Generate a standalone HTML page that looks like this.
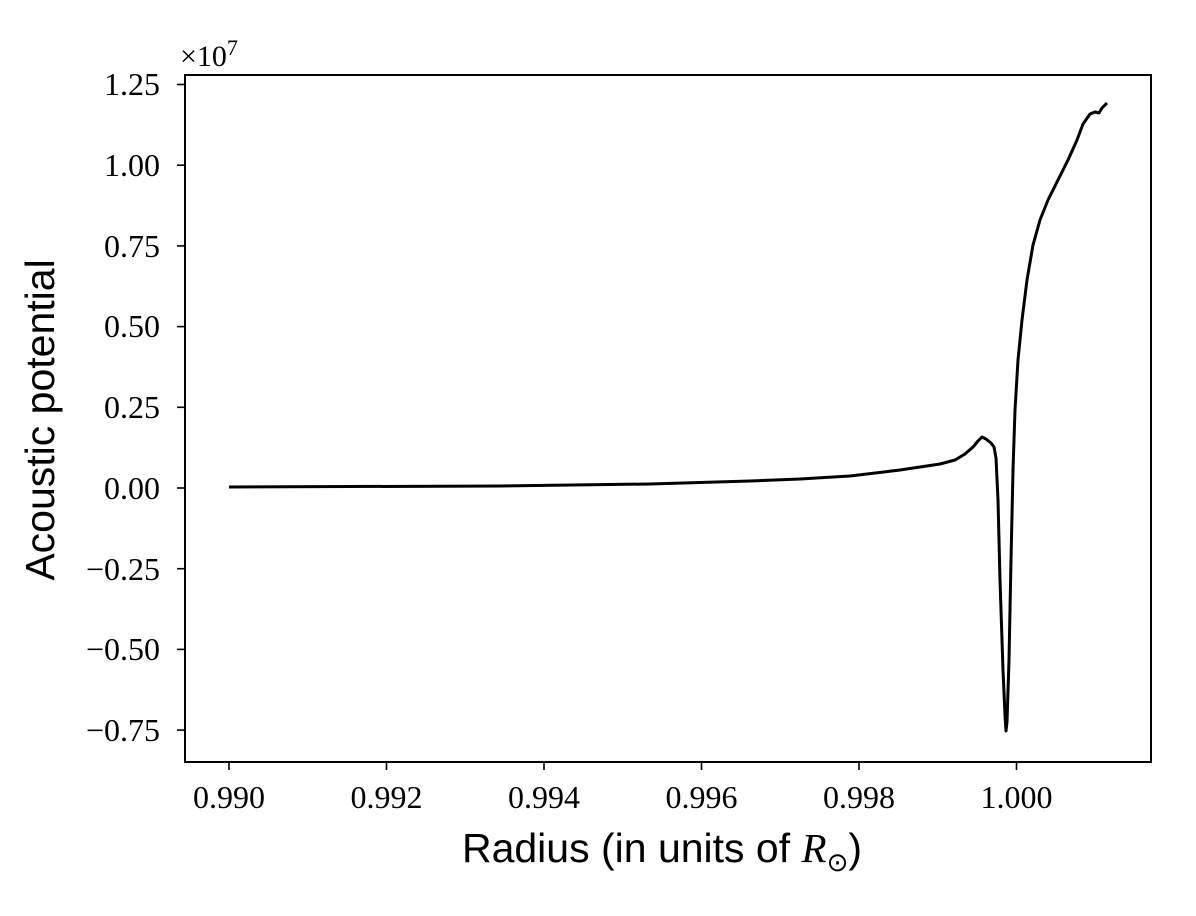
<!DOCTYPE html>
<html><head><style>
body{margin:0;background:#fff;}
svg text{font-family:"Liberation Serif",serif;fill:#000;}
</style></head><body>
<svg width="1196" height="911" xmlns="http://www.w3.org/2000/svg">
<rect x="185" y="75" width="966" height="687" fill="none" stroke="#000" stroke-width="2"/>
<g stroke="#000" stroke-width="1.6">
<line x1="229" y1="762" x2="229" y2="770"/><line x1="386.5" y1="762" x2="386.5" y2="770"/>
<line x1="544" y1="762" x2="544" y2="770"/><line x1="701.5" y1="762" x2="701.5" y2="770"/>
<line x1="859" y1="762" x2="859" y2="770"/><line x1="1016.5" y1="762" x2="1016.5" y2="770"/>
<line x1="177" y1="84.5" x2="185" y2="84.5"/><line x1="177" y1="165.2" x2="185" y2="165.2"/>
<line x1="177" y1="245.9" x2="185" y2="245.9"/><line x1="177" y1="326.6" x2="185" y2="326.6"/>
<line x1="177" y1="407.3" x2="185" y2="407.3"/><line x1="177" y1="488" x2="185" y2="488"/>
<line x1="177" y1="568.7" x2="185" y2="568.7"/><line x1="177" y1="649.4" x2="185" y2="649.4"/>
<line x1="177" y1="730.1" x2="185" y2="730.1"/>
</g>
<g font-size="32" text-anchor="middle">
<text x="229" y="808">0.990</text><text x="386.5" y="808">0.992</text><text x="544" y="808">0.994</text>
<text x="701.5" y="808">0.996</text><text x="859" y="808">0.998</text><text x="1016.5" y="808">1.000</text>
</g>
<g font-size="32" text-anchor="end">
<text x="160" y="95">1.25</text><text x="160" y="176">1.00</text><text x="160" y="257">0.75</text>
<text x="160" y="337">0.50</text><text x="160" y="418">0.25</text><text x="160" y="499">0.00</text>
<text x="160" y="580">−0.25</text><text x="160" y="660">−0.50</text><text x="160" y="741">−0.75</text>
</g>
<text x="180" y="66" font-size="30">×10<tspan font-size="22" dy="-11">7</tspan></text>
<text x="662" y="862" font-size="41" text-anchor="middle" style="font-family:'Liberation Sans',sans-serif">Radius (in units of <tspan font-style="italic" style="font-family:'Liberation Serif',serif">R</tspan><tspan font-size="26" dy="9">⊙</tspan><tspan dy="-9">)</tspan></text>
<text transform="translate(54,420) rotate(-90)" font-size="41" text-anchor="middle" style="font-family:'Liberation Sans',sans-serif">Acoustic potential</text>
<path d="M229,487 L500,486 L650,484 L750,481 L800,479 L850,476 L900,470 L940,464 L955,460 L965,454 L973,447 L978,441 L982,437 L986,439 L991,443 L994,447 L996,458 L998,500 L1000,580 L1003,670 L1005,715 L1006,731 L1007,722 L1009,660 L1011,560 L1013,470 L1015,410 L1018,360 L1022,320 L1027,280 L1033,245 L1040,220 L1048,200 L1058,180 L1068,160 L1077,140 L1083,124 L1090,114 L1095,112 L1099,113 L1102,108 L1107,103"
 fill="none" stroke="#000" stroke-width="3" stroke-linejoin="round"/>
</svg>
</body></html>
